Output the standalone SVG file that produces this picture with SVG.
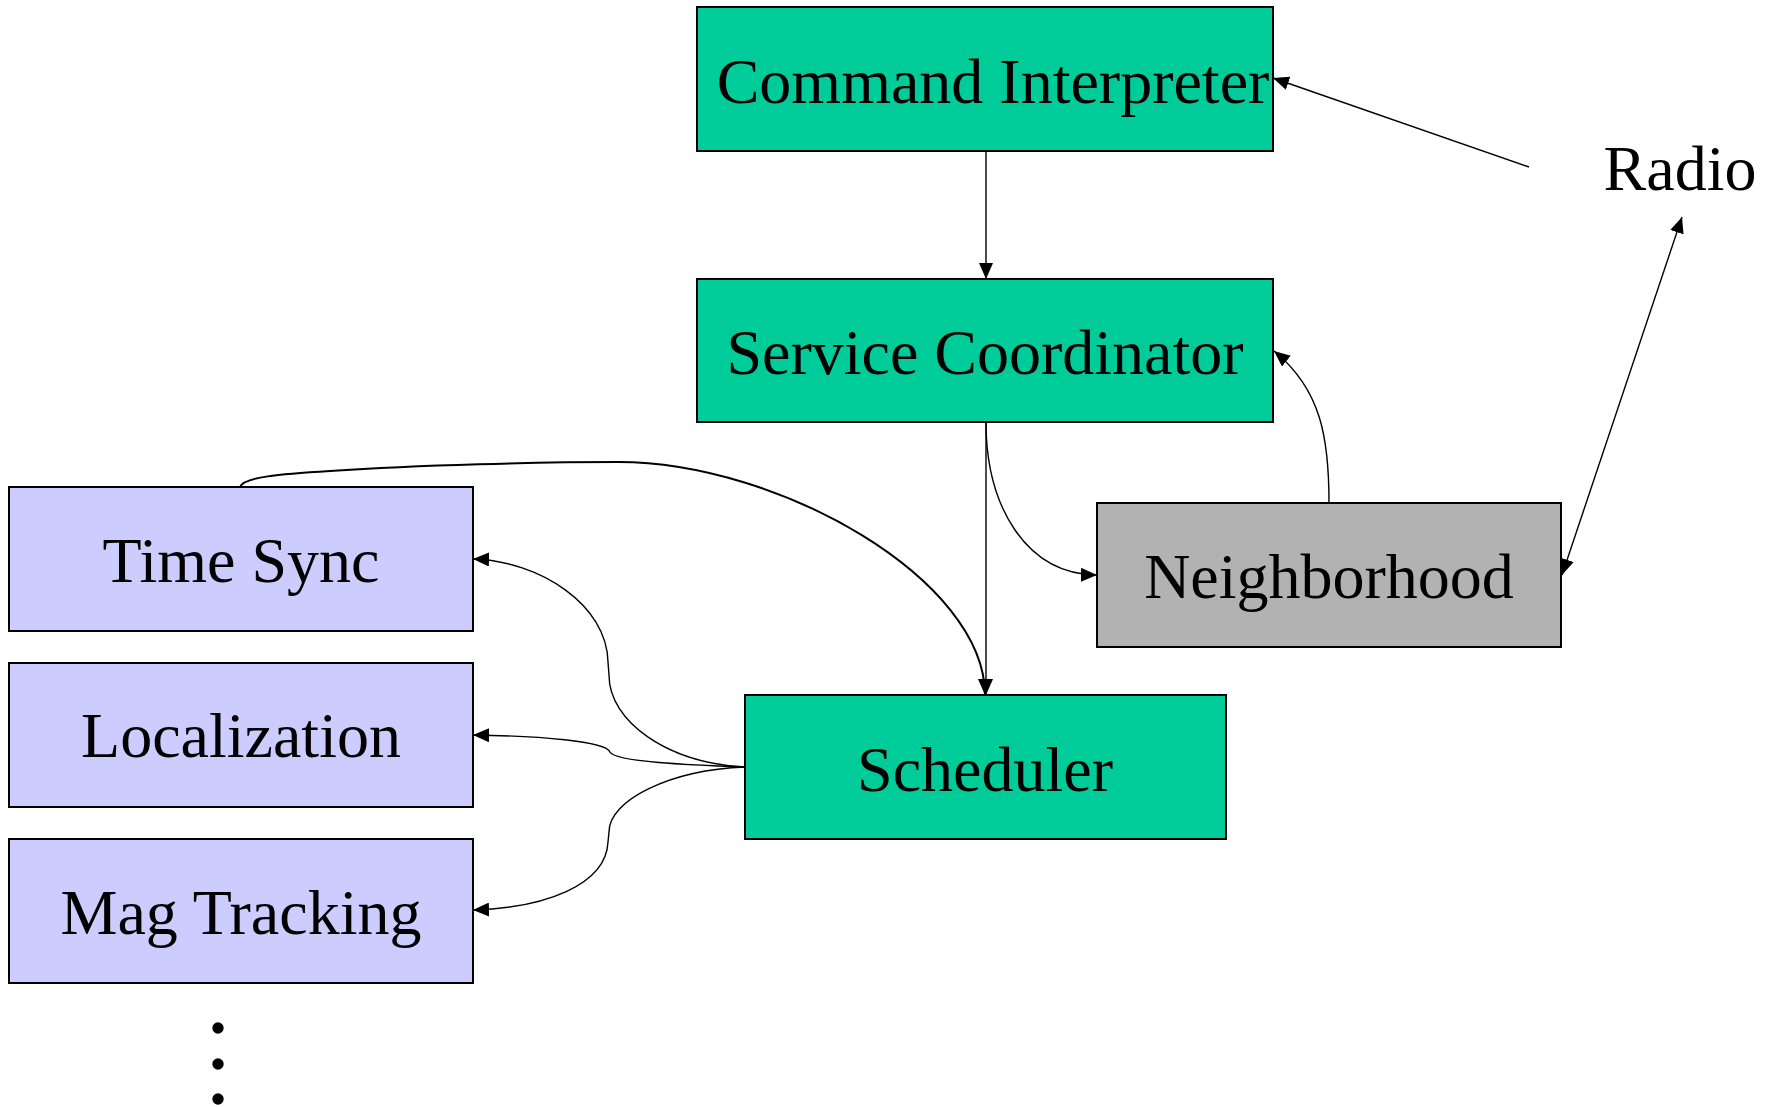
<svg xmlns="http://www.w3.org/2000/svg" width="1775" height="1107" viewBox="0 0 1775 1107">
  <style>
    .box { stroke: #000; stroke-width: 2; }
    .green { fill: #00CC99; }
    .lav { fill: #CCCCFF; }
    .gray { fill: #B2B2B2; }
    .label { font-family: "Liberation Serif", "Times New Roman", serif; font-size: 64px; fill: #000; text-anchor: middle; }
    .edge { fill: none; stroke: #000; stroke-width: 1.4; marker-end: url(#arrow); }
    .thick { stroke-width: 2; }
  </style>
  <defs>
    <marker id="arrow" viewBox="0 0 16 14" refX="16" refY="7" markerWidth="16" markerHeight="14" markerUnits="userSpaceOnUse" orient="auto-start-reverse">
      <path d="M0,0 L16,7 L0,14 z" fill="#000"/>
    </marker>
  </defs>

  <rect width="1775" height="1107" fill="#fff"/>

  <g id="command-interpreter">
    <rect class="box green" x="697" y="7" width="576" height="144"/>
    <text class="label" x="993" y="103">Command Interpreter</text>
  </g>

  <g id="service-coordinator">
    <rect class="box green" x="697" y="279" width="576" height="143"/>
    <text class="label" x="985" y="374">Service Coordinator</text>
  </g>

  <g id="neighborhood">
    <rect class="box gray" x="1097" y="503" width="464" height="144"/>
    <text class="label" x="1329" y="598">Neighborhood</text>
  </g>

  <g id="scheduler">
    <rect class="box green" x="745" y="695" width="481" height="144"/>
    <text class="label" x="985" y="791">Scheduler</text>
  </g>

  <g id="time-sync">
    <rect class="box lav" x="9" y="487" width="464" height="144"/>
    <text class="label" x="241" y="582">Time Sync</text>
  </g>

  <g id="localization">
    <rect class="box lav" x="9" y="663" width="464" height="144"/>
    <text class="label" x="241" y="757">Localization</text>
  </g>

  <g id="mag-tracking">
    <rect class="box lav" x="9" y="839" width="464" height="144"/>
    <text class="label" x="241" y="934">Mag Tracking</text>
  </g>

  <g id="radio">
    <text class="label" x="1680" y="190">Radio</text>
  </g>

  <g id="more">
    <circle cx="218" cy="1028" r="5.7"/>
    <circle cx="218" cy="1064" r="5.7"/>
    <circle cx="218" cy="1099" r="5.7"/>
  </g>

  <g id="connectors">
    <!-- Command Interpreter to Service Coordinator -->
    <path class="edge" d="M986,151 L986,279"/>
    <!-- Radio to Command Interpreter -->
    <path class="edge" d="M1529,167 L1273,78"/>
    <!-- Neighborhood and Radio, both directions -->
    <path class="edge" d="M1562,575 L1682,217" marker-start="url(#arrow)"/>
    <!-- Service Coordinator to Scheduler -->
    <path class="edge" d="M986,422 L986,695"/>
    <!-- Service Coordinator to Neighborhood -->
    <path class="edge" d="M986,422 C986,505 1025,574 1097,575"/>
    <!-- Neighborhood to Service Coordinator -->
    <path class="edge" d="M1329,503 C1329,440 1322,390 1274,351"/>
    <!-- Time Sync to Scheduler -->
    <path class="edge thick" d="M240,487 C244,477 280,474 330,471 C420,465 540,462 618,462 C780,462 985,580 985,695"/>
    <!-- Scheduler to the services -->
    <path class="edge" d="M745,767 C668,763 609,722 609,675 L608,662 C607,605 540,561 473,559"/>
    <path class="edge" d="M745,767 C690,765 615,762 610,752 C605,741 540,736 473,735"/>
    <path class="edge" d="M745,767 C670,770 609,800 609,832 L608,842 C606,885 545,908 473,910"/>
  </g>
</svg>
